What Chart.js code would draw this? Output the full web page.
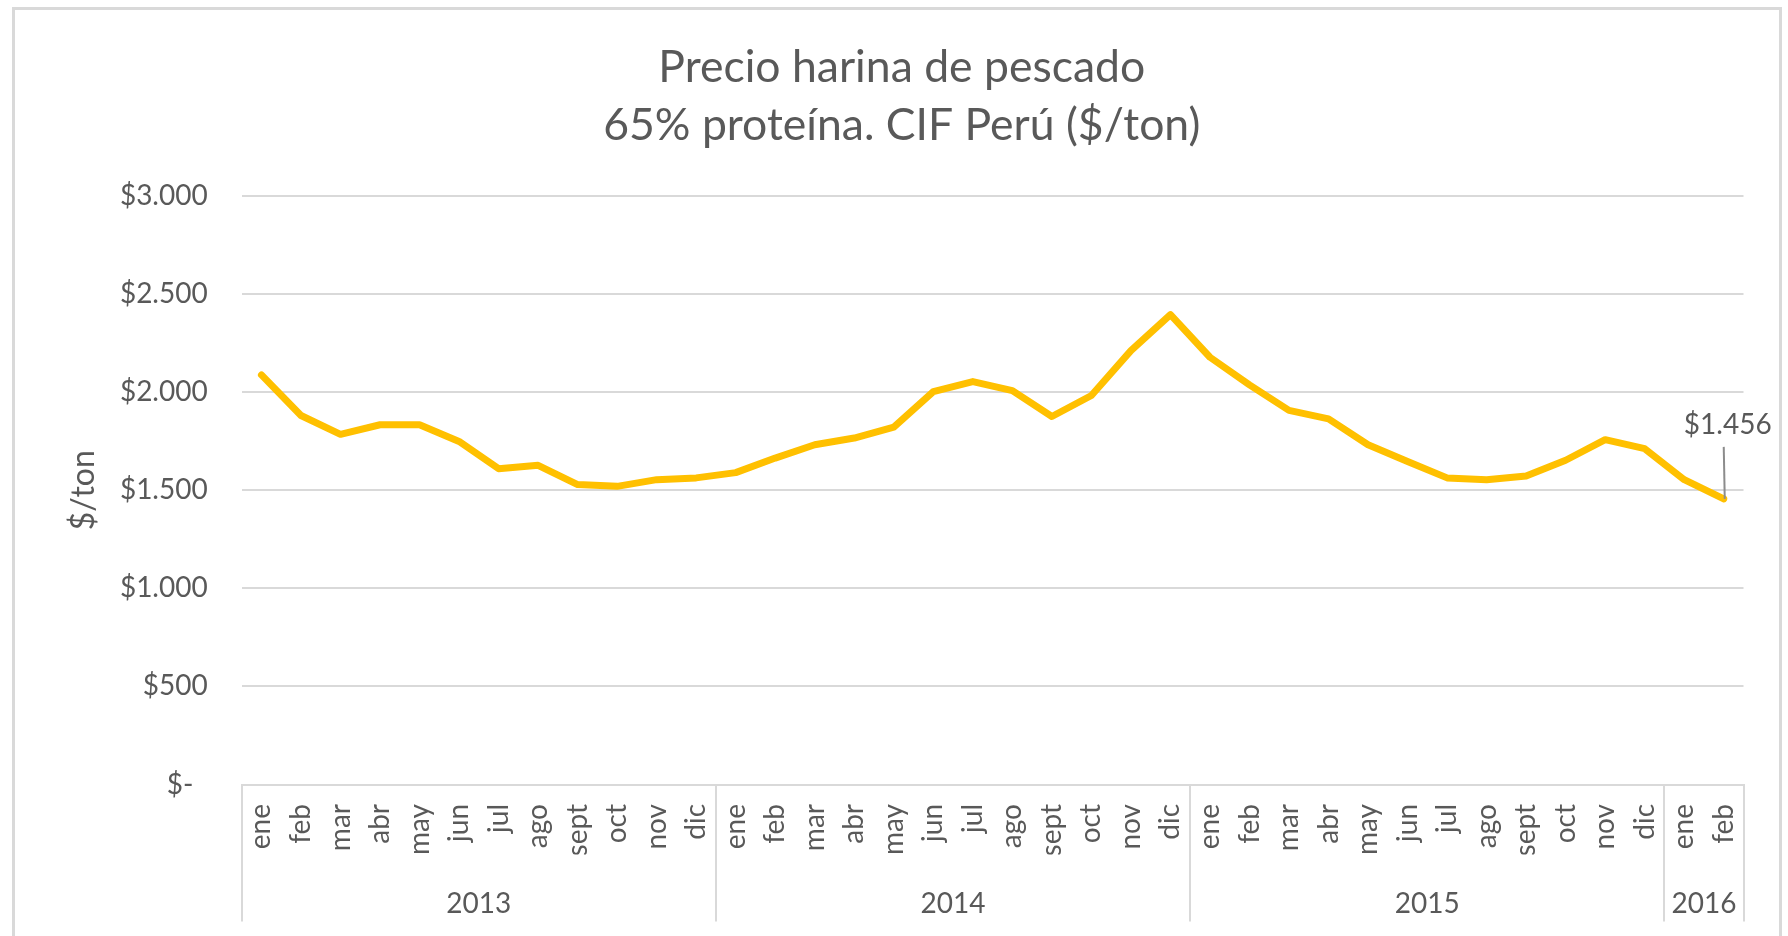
<!DOCTYPE html>
<html>
<head>
<meta charset="utf-8">
<script src="https://cdn.jsdelivr.net/npm/chart.js@4.4.1/dist/chart.umd.min.js"></script>
<style>
  html, body { margin: 0; padding: 0; background: #fff; }
  #frame { position: absolute; left: 12px; top: 7px; width: 1770px; height: 960px; border: 3px solid #d9d9d9; box-sizing: border-box; }
  #chart { position: absolute; left: 0; top: 0; }
</style>
</head>
<body>
<div id="frame"></div>
<canvas id="chart" width="1788" height="936"></canvas>
<script>
// Data
const years = ['2013', '2014', '2015', '2016'];
const yearCounts = [12, 12, 12, 2];
const monthNames = ['ene', 'feb', 'mar', 'abr', 'may', 'jun', 'jul', 'ago', 'sept', 'oct', 'nov', 'dic'];
const prices = [
    2088, 1881, 1785, 1834, 1834, 1749, 1610, 1627, 1529, 1520, 1554, 1563,
    1590, 1664, 1732, 1766, 1822, 2003, 2054, 2008, 1876, 1983, 2212, 2395,
    2178, 2037, 1907, 1864, 1732, 1647, 1563, 1554, 1573, 1653, 1758, 1712,
    1554, 1456
];
const yTicks = [0, 500, 1000, 1500, 2000, 2500, 3000];
const titleLines = ['Precio harina de pescado', '65% proteína. CIF Perú ($/ton)'];

const textColor = '#595959';
const gridColor = '#d9d9d9';
const fontFamily = 'Lato, "Open Sans", sans-serif';

// Month labels and year groups
const labels = [];
const boundaries = [0];
years.forEach((y, i) => {
    for (let m = 0; m < yearCounts[i]; m++) labels.push(monthNames[m]);
    boundaries.push(boundaries[i] + yearCounts[i]);
});
const yearCenters = yearCounts.map((c, i) => boundaries[i] + c / 2);

// $1.234 style
function money(v) {
    if (v === 0) return '$-  ';
    return '$' + String(v).replace(/\B(?=(\d{3})+(?!\d))/g, '.');
}

// Label on the last point with a leader line
const lastLabel = {
    id: 'lastLabel',
    afterDatasetsDraw(chart) {
        const meta = chart.getDatasetMeta(0);
        const pt = meta.data[meta.data.length - 1];
        const ctx = chart.ctx;
        ctx.save();
        ctx.strokeStyle = '#8c8c8c';
        ctx.lineWidth = 2;
        ctx.beginPath();
        ctx.moveTo(pt.x + 1, pt.y);
        ctx.lineTo(pt.x, pt.y - 52);
        ctx.stroke();
        ctx.font = '28px ' + fontFamily;
        ctx.fillStyle = textColor;
        ctx.textAlign = 'center';
        ctx.textBaseline = 'middle';
        ctx.fillText(money(prices[prices.length - 1]), pt.x + 4, pt.y - 74);
        ctx.restore();
    }
};

Chart.defaults.font.family = fontFamily;
Chart.defaults.color = textColor;

const ctx = document.getElementById('chart').getContext('2d');
const chart = new Chart(ctx, {
    type: 'line',
    data: {
        labels: labels,
        datasets: [{
            label: 'Precio',
            data: prices,
            borderColor: '#ffc000',
            borderWidth: 7,
            borderJoinStyle: 'round',
            borderCapStyle: 'round',
            pointRadius: 0,
            tension: 0
        }]
    },
    options: {
        responsive: false,
        animation: false,
        layout: { padding: { top: 20, left: 60, right: 44.5, bottom: 0 } },
        plugins: {
            legend: { display: false },
            tooltip: { enabled: false },
            title: {
                display: true,
                text: titleLines,
                color: textColor,
                font: { size: 44.5, weight: 'normal', lineHeight: 58 / 44.5 },
                padding: { top: 19, bottom: 41 }
            }
        },
        scales: {
            y: {
                min: 0,
                max: 3000,
                afterBuildTicks: s => { s.ticks = yTicks.map(v => ({ value: v })); },
                ticks: { padding: 34, color: textColor, font: { size: 28 }, callback: v => money(v) },
                grid: { color: gridColor, lineWidth: 2, drawTicks: false },
                border: { display: false },
                title: { display: true, text: '$/ton', color: textColor, font: { size: 32 }, padding: { top: 4, bottom: 0 } },
                afterFit: s => { s.width = 181.7; }
            },
            x: {
                type: 'category',
                offset: true,
                grid: {
                    display: true,
                    drawOnChartArea: false,
                    drawTicks: true,
                    tickLength: 137,
                    offset: true,
                    lineWidth: 2,
                    color: c => (c.type !== 'tick' || boundaries.includes(c.index)) ? gridColor : 'rgba(0,0,0,0)'
                },
                border: { display: true, color: gridColor, width: 2 },
                ticks: { minRotation: 90, maxRotation: 90, autoSkip: false, padding: -117.5, color: textColor, font: { size: 28 } },
                afterFit: s => { s.height = 70; }
            },
            x2: {
                type: 'linear',
                position: 'bottom',
                weight: 1,
                min: 0,
                max: labels.length,
                afterBuildTicks: s => { s.ticks = yearCenters.map(v => ({ value: v })); },
                ticks: { autoSkip: false, maxRotation: 0, padding: 32.7, color: textColor, font: { size: 28 }, callback: (v, i) => years[i] },
                grid: { display: false, drawTicks: false },
                border: { display: false },
                afterFit: s => { s.height = 81.5; }
            }
        }
    },
    plugins: [lastLabel]
});
</script>
</body>
</html>
